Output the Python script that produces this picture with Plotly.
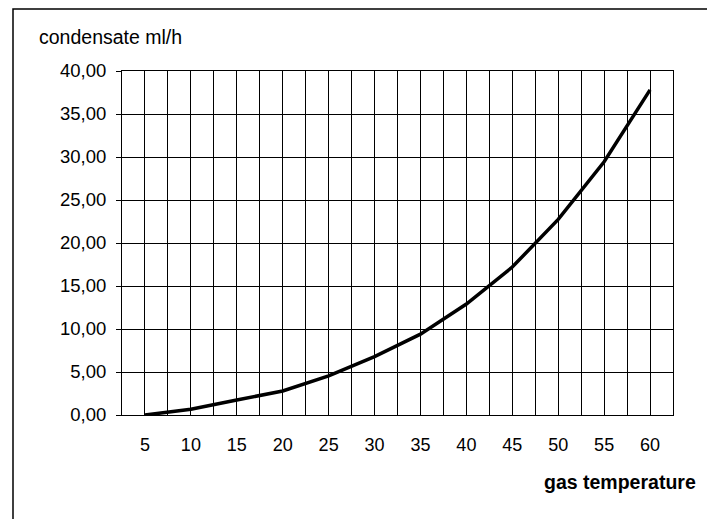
import plotly.graph_objects as go

temperature = [5, 10, 15, 20, 25, 30, 35, 40, 45, 50, 55, 60]
condensate = [0.0, 0.66, 1.74, 2.79, 4.55, 6.78, 9.4, 12.9, 17.2, 22.75, 29.45, 37.8]
y_ticks = [0, 5, 10, 15, 20, 25, 30, 35, 40]

FONT = "Liberation Sans, Arial, sans-serif"

fig = go.Figure()
fig.add_trace(go.Scatter(x=temperature, y=condensate, mode="lines",
                         line=dict(color="black", width=3.5), showlegend=False,
                         hoverinfo="skip"))

fig.update_layout(
    width=707, height=519,
    margin=dict(l=122, r=34, t=71, b=104),
    paper_bgcolor="white", plot_bgcolor="white",
    separators=", ",
    font=dict(family=FONT, size=18, color="black"),
    xaxis=dict(range=[2.5, 62.5], tickvals=temperature, ticktext=[str(t) for t in temperature],
               showgrid=True, gridcolor="black", gridwidth=1,
               minor=dict(showgrid=True, tick0=2.5, dtick=5, gridcolor="black", gridwidth=1),
               showline=True, linecolor="black", linewidth=1, mirror=True,
               ticks="", ticklabelstandoff=13, zeroline=False,
               tickfont=dict(size=18)),
    yaxis=dict(range=[0, 40], tickvals=y_ticks, tickformat=".2f",
               showgrid=True, gridcolor="black", gridwidth=1,
               showline=True, linecolor="black", linewidth=1, mirror=True,
               ticks="outside", ticklen=5, tickcolor="black", ticklabelstandoff=6,
               zeroline=False, tickfont=dict(size=18.5)),
    shapes=[dict(type="rect", xref="paper", yref="paper",
                 x0=(13 - 122) / 551, x1=(712 - 122) / 551,
                 y0=(415 - 525) / 344, y1=1 + (71 - 9) / 344,
                 line=dict(color="black", width=1.5), fillcolor="rgba(0,0,0,0)",
                 layer="below")],
    annotations=[
        dict(text="condensate ml/h", xref="paper", yref="paper",
             x=(37 - 122) / 551, y=1 + (71 - 37) / 344, xanchor="left", yanchor="middle",
             showarrow=False, font=dict(size=19.5)),
        dict(text="<b>gas temperature</b>", xref="paper", yref="paper",
             x=(620 - 122) / 551, y=(415 - 482) / 344, xanchor="center", yanchor="middle",
             showarrow=False, font=dict(size=19.5)),
    ],
)

fig.write_html("out.html", config={"displayModeBar": False},
               post_script="document.body.style.margin='0';document.body.style.padding='0';")
